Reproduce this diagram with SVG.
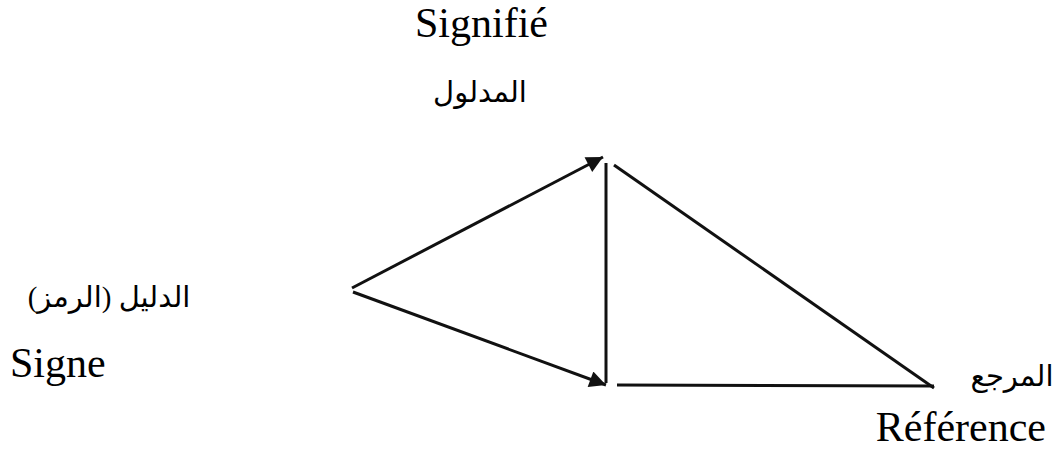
<svg xmlns="http://www.w3.org/2000/svg" width="1054" height="452" viewBox="0 0 1054 452">
  <style>
    .lat { font-family: "Liberation Serif", "DejaVu Serif", serif; fill: #000; font-size: 42px; }
    .ar { font-family: "Liberation Serif", "DejaVu Sans", serif; fill: #000; font-size: 29px; }
    .ln { stroke: #111; stroke-width: 3; fill: none; stroke-linecap: butt; }
  </style>
  <defs>
    <marker id="arr" viewBox="0 0 10 10" refX="10" refY="5" markerWidth="7" markerHeight="5.5" markerUnits="strokeWidth" orient="auto">
      <path d="M0,0 L10,5 L0,10 z" fill="#111"/>
    </marker>
  </defs>
  <rect width="1054" height="452" fill="#fff"/>

  <g id="signifie">
    <text class="lat" x="415" y="37">Signifié</text>
    <text class="ar" x="480" y="102" text-anchor="middle" direction="rtl">المدلول</text>
  </g>

  <g id="signe">
    <text class="ar" x="109" y="307" text-anchor="middle" direction="rtl">الدليل (الرمز)</text>
    <text class="lat" x="10" y="377">Signe</text>
  </g>

  <g id="reference">
    <text class="ar" x="1012" y="386" text-anchor="middle" direction="rtl">المرجع</text>
    <text class="lat" x="1046" y="441" font-size="40" text-anchor="end">Référence</text>
  </g>

  <g id="connectors">
    <line class="ln" x1="352" y1="288" x2="603" y2="157" marker-end="url(#arr)"/>
    <line class="ln" x1="353" y1="292" x2="606" y2="385" marker-end="url(#arr)"/>
    <line class="ln" x1="606" y1="163" x2="606" y2="383"/>
    <line class="ln" x1="614" y1="165" x2="934" y2="388"/>
    <line class="ln" x1="617" y1="385" x2="934" y2="386"/>
  </g>
</svg>
